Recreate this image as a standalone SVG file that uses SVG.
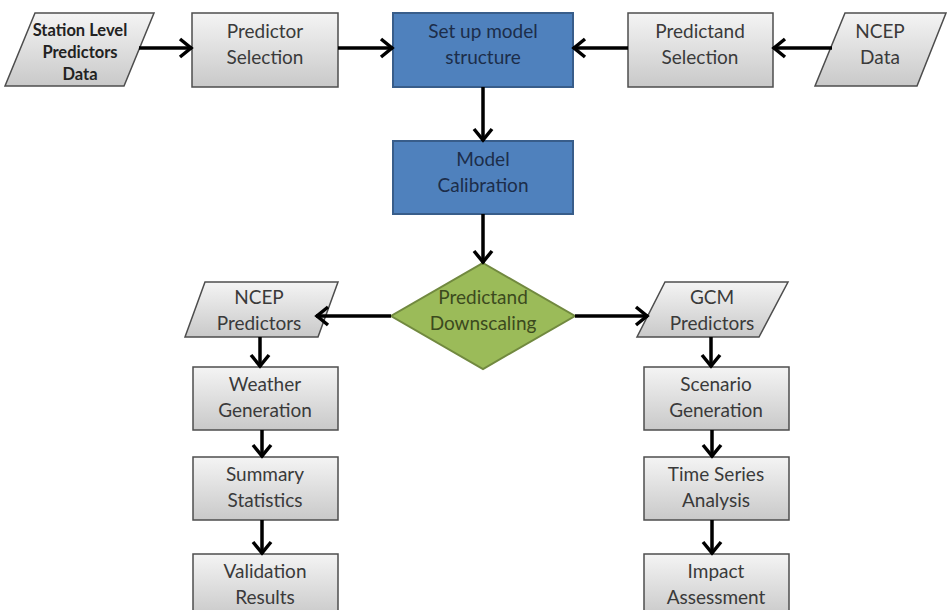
<svg xmlns="http://www.w3.org/2000/svg" width="948" height="610" viewBox="0 0 948 610">
<defs>
<linearGradient id="gray" x1="0" y1="0" x2="0" y2="1">
<stop offset="0" stop-color="#f4f4f4"/>
<stop offset="1" stop-color="#c9c9c9"/>
</linearGradient>
<marker id="arr" markerUnits="userSpaceOnUse" markerWidth="20" markerHeight="24" refX="16" refY="12" orient="auto">
<path d="M4,3 L15,12 L4,21" fill="none" stroke="#000" stroke-width="3.5" stroke-linejoin="miter"/>
</marker>
</defs>
<style>
.g{fill:url(#gray);stroke:#4d4d4d;stroke-width:1.5}
.b{fill:#4f81bd;stroke:#385d8a;stroke-width:2}
.d{fill:#9bbb59;stroke:#71893f;stroke-width:2}
text{font-family:Lato,"Open Sans","Liberation Sans",sans-serif;font-size:19px;text-anchor:middle}
.tg{fill:#3a3a3a}
.tb{fill:#1c2d4a}
.td{fill:#3b4a1e}
.ts{fill:#222;font-weight:bold;font-size:16.5px}
.c{fill:none;stroke:#000;stroke-width:3.5;marker-end:url(#arr)}
</style>
<rect width="948" height="610" fill="#fff"/>
<g id="station">
<polygon class="g" points="35,13 154,13 124,86 5,86"/>
<text class="ts" x="80" y="36">Station Level</text>
<text class="ts" x="80" y="58">Predictors</text>
<text class="ts" x="80" y="80">Data</text>
</g>
<g id="predictor-selection">
<rect class="g" x="192" y="13" width="146" height="74"/>
<text class="tg" x="265" y="38">Predictor</text>
<text class="tg" x="265" y="64">Selection</text>
</g>
<g id="setup">
<rect class="b" x="393" y="13" width="180" height="74"/>
<text class="tb" x="483" y="38">Set up model</text>
<text class="tb" x="483" y="64">structure</text>
</g>
<g id="predictand-selection">
<rect class="g" x="628" y="13" width="145" height="74"/>
<text class="tg" x="700" y="38">Predictand</text>
<text class="tg" x="700" y="64">Selection</text>
</g>
<g id="ncep-data">
<polygon class="g" points="845,13 946,13 917,86 815,86"/>
<text class="tg" x="880" y="38">NCEP</text>
<text class="tg" x="880" y="64">Data</text>
</g>
<g id="calibration">
<rect class="b" x="393" y="141" width="180" height="73"/>
<text class="tb" x="483" y="166">Model</text>
<text class="tb" x="483" y="192">Calibration</text>
</g>
<g id="downscaling">
<polygon class="d" points="483,263 575,316 483,369 391,316"/>
<text class="td" x="483" y="304">Predictand</text>
<text class="td" x="483" y="330">Downscaling</text>
</g>
<g id="ncep-predictors">
<polygon class="g" points="205,282 338,282 318,337 185,337"/>
<text class="tg" x="259" y="304">NCEP</text>
<text class="tg" x="259" y="330">Predictors</text>
</g>
<g id="gcm-predictors">
<polygon class="g" points="665,282 788,282 759,337 637,337"/>
<text class="tg" x="712" y="304">GCM</text>
<text class="tg" x="712" y="330">Predictors</text>
</g>
<g id="weather">
<rect class="g" x="193" y="367" width="145" height="63"/>
<text class="tg" x="265" y="391">Weather</text>
<text class="tg" x="265" y="417">Generation</text>
</g>
<g id="summary">
<rect class="g" x="193" y="457" width="145" height="63"/>
<text class="tg" x="265" y="481">Summary</text>
<text class="tg" x="265" y="507">Statistics</text>
</g>
<g id="validation">
<rect class="g" x="193" y="554" width="145" height="63"/>
<text class="tg" x="265" y="578">Validation</text>
<text class="tg" x="265" y="604">Results</text>
</g>
<g id="scenario">
<rect class="g" x="644" y="367" width="145" height="63"/>
<text class="tg" x="716" y="391">Scenario</text>
<text class="tg" x="716" y="417">Generation</text>
</g>
<g id="timeseries">
<rect class="g" x="644" y="457" width="145" height="63"/>
<text class="tg" x="716" y="481">Time Series</text>
<text class="tg" x="716" y="507">Analysis</text>
</g>
<g id="impact">
<rect class="g" x="644" y="554" width="145" height="63"/>
<text class="tg" x="716" y="578">Impact</text>
<text class="tg" x="716" y="604">Assessment</text>
</g>
<g id="connectors">
<path class="c" d="M139,48 H192"/>
<path class="c" d="M338,48 H393"/>
<path class="c" d="M628,48 H573"/>
<path class="c" d="M832,48 H773"/>
<path class="c" d="M483,87 V141"/>
<path class="c" d="M483,214 V263"/>
<path class="c" d="M391,316 H316"/>
<path class="c" d="M575,316 H648"/>
<path class="c" d="M260,337 V367"/>
<path class="c" d="M262,430 V457"/>
<path class="c" d="M262,520 V554"/>
<path class="c" d="M711,337 V367"/>
<path class="c" d="M712,430 V457"/>
<path class="c" d="M712,520 V554"/>
</g>
</svg>
